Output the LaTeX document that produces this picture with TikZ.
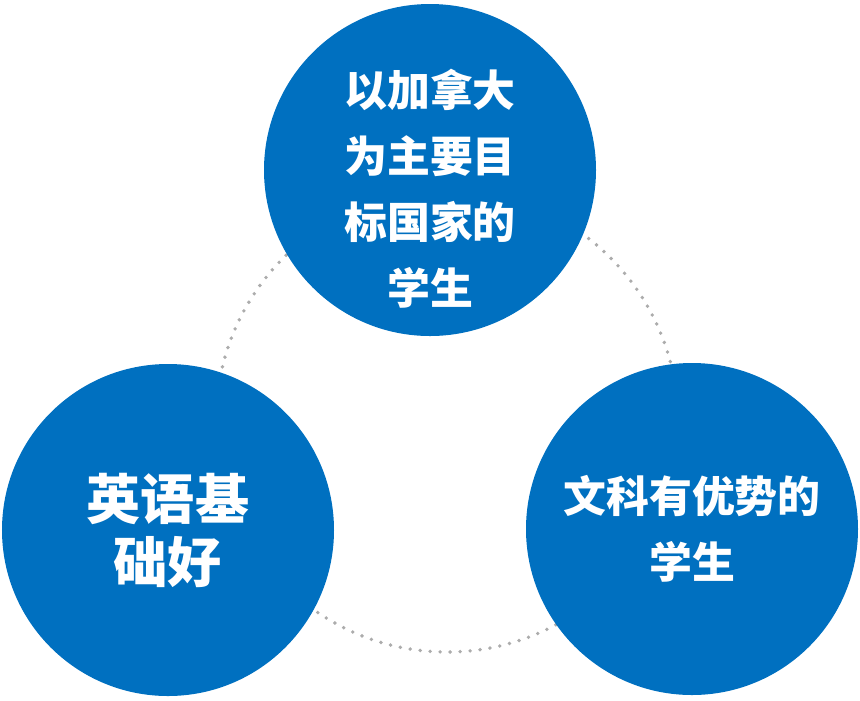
\documentclass[tikz,border=0pt]{standalone}
\usepackage{fontspec}
\newfontfamily\cjk{Noto Sans CJK SC}
\usepackage{tikz}

\definecolor{ballblue}{RGB}{0,112,192}

\begin{document}
\begin{tikzpicture}[
    ball/.style={circle, fill=ballblue, minimum size=3.32cm, inner sep=0pt},
    balltext/.style={text=white, align=center, inner sep=0pt,
      font=\cjk\bfseries\fontsize{12.2}{18.8}\selectfont},
    bigtext/.style={balltext, font=\cjk\bfseries\fontsize{15.4}{17.9}\selectfont},
    ring/.style={gray!65, line width=1.1pt, line cap=round, dash pattern=on 0pt off 2.85pt}
  ]
  \useasboundingbox (0,0) rectangle (8.6,7.0);

  % Dotted ring behind the circles
  \coordinate (mid) at (4.47,2.79);
  \draw[ring] (mid) circle (2.31);

  % Circles
  \node[ball] (top) at (4.30,5.30) {};
  \node[ball] (left) at (1.68,1.70) {};
  \node[ball] (right) at (6.92,1.71) {};

  % Labels
  \node[balltext] (toptext) at ([yshift=-0.19cm]top.center)
    {以加拿大\\为主要目\\标国家的\\学生};
  \node[bigtext] (lefttext) at (left.center) {英语基\\础好};
  \node[balltext] (righttext) at (right.center) {文科有优势的\\学生};
\end{tikzpicture}
\end{document}
